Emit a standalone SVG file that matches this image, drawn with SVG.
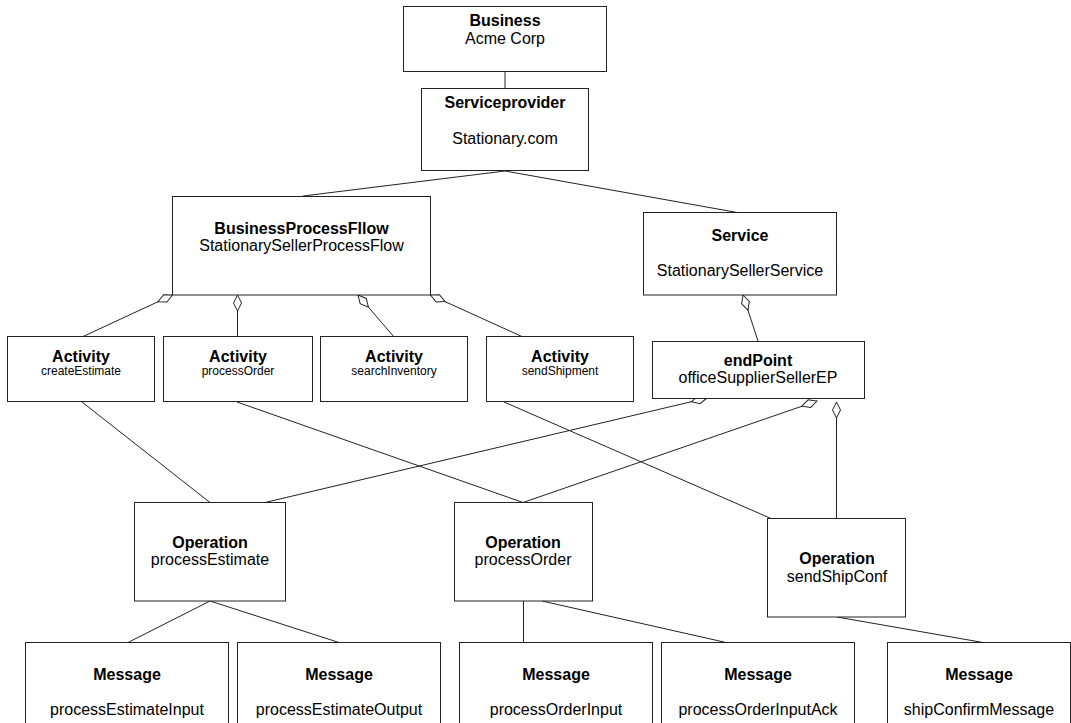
<svg xmlns="http://www.w3.org/2000/svg" width="1071" height="723" viewBox="0 0 1071 723">
<style>
.box{fill:#fff;stroke:#222;stroke-width:1}
.t{font-family:"Liberation Sans",Arial,sans-serif;font-size:16px;fill:#000;text-anchor:middle}
.b{font-weight:bold}
.s{font-size:12px}
.c line{stroke:#222;stroke-width:1}
.agg{marker-start:url(#dia)}
</style>
<defs>
<marker id="dia" markerUnits="userSpaceOnUse" orient="auto" refX="0" refY="0" markerWidth="20" markerHeight="10" overflow="visible">
<path d="M0,0 L8,-4 L16,0 L8,4 Z" fill="#fff" stroke="#222" stroke-width="1"/>
</marker>
</defs>
<rect width="1071" height="723" fill="#fff"/>
<g id="connectors" class="c">
<line x1="505" y1="72" x2="505" y2="89"/>
<line x1="505" y1="171" x2="303" y2="196"/>
<line x1="505" y1="171" x2="740" y2="213"/>
<line class="agg" x1="172.5" y1="295" x2="82" y2="337"/>
<line class="agg" x1="237.5" y1="295" x2="237.5" y2="337"/>
<line class="agg" x1="358" y1="295" x2="394" y2="337"/>
<line class="agg" x1="430.5" y1="295" x2="523" y2="337"/>
<line class="agg" x1="743" y1="295" x2="758" y2="341"/>
<line class="agg" x1="707" y1="398" x2="265" y2="502.5"/>
<line class="agg" x1="817" y1="401" x2="523" y2="502.5"/>
<line class="agg" x1="836.5" y1="402" x2="836.5" y2="518.5"/>
<line x1="82" y1="402" x2="210" y2="502.5"/>
<line x1="237" y1="402" x2="523" y2="502.5"/>
<line x1="504" y1="402" x2="771" y2="518.5"/>
<line x1="210" y1="601" x2="128" y2="642.5"/>
<line x1="210" y1="601" x2="339" y2="642.5"/>
<line x1="523.5" y1="601" x2="523.5" y2="642.5"/>
<line x1="542" y1="601" x2="726" y2="642.5"/>
<line x1="837" y1="617" x2="983" y2="642.5"/>
</g>
<g id="business"><rect class="box" x="403.5" y="6.5" width="203" height="65"/>
<text class="t b" x="505" y="26">Business</text><text class="t" x="505" y="44">Acme Corp</text></g>
<g id="serviceprovider"><rect class="box" x="421.5" y="88.5" width="167" height="82"/>
<text class="t b" x="505" y="108">Serviceprovider</text><text class="t" x="505" y="144">Stationary.com</text></g>
<g id="bpf"><rect class="box" x="172.5" y="196.5" width="258" height="98.5"/>
<text class="t b" x="301.5" y="234">BusinessProcessFllow</text><text class="t" x="301.5" y="251">StationarySellerProcessFlow</text></g>
<g id="service"><rect class="box" x="643.5" y="212.5" width="193" height="82.5"/>
<text class="t b" x="740" y="241">Service</text><text class="t" x="740" y="276">StationarySellerService</text></g>
<g id="act1"><rect class="box" x="7.5" y="336.5" width="147" height="65"/>
<text class="t b" x="81" y="362">Activity</text><text class="t s" x="81" y="375">createEstimate</text></g>
<g id="act2"><rect class="box" x="163.5" y="336.5" width="149" height="65"/>
<text class="t b" x="238" y="362">Activity</text><text class="t s" x="238" y="375">processOrder</text></g>
<g id="act3"><rect class="box" x="320.5" y="336.5" width="147" height="65"/>
<text class="t b" x="394" y="362">Activity</text><text class="t s" x="394" y="375">searchInventory</text></g>
<g id="act4"><rect class="box" x="486.5" y="336.5" width="147" height="65"/>
<text class="t b" x="560" y="362">Activity</text><text class="t s" x="560" y="375">sendShipment</text></g>
<g id="endpoint"><rect class="box" x="652.5" y="341.5" width="212" height="57"/>
<text class="t b" x="758" y="366">endPoint</text><text class="t" x="758" y="383">officeSupplierSellerEP</text></g>
<g id="op1"><rect class="box" x="134.5" y="502.5" width="151" height="98.5"/>
<text class="t b" x="210" y="548">Operation</text><text class="t" x="210" y="565">processEstimate</text></g>
<g id="op2"><rect class="box" x="454.5" y="502.5" width="138" height="98.5"/>
<text class="t b" x="523" y="548">Operation</text><text class="t" x="523" y="565">processOrder</text></g>
<g id="op3"><rect class="box" x="767.5" y="518.5" width="138" height="98.5"/>
<text class="t b" x="837" y="564">Operation</text><text class="t" x="837" y="582">sendShipConf</text></g>
<g id="msg1"><rect class="box" x="25.5" y="642.5" width="203" height="100"/>
<text class="t b" x="127" y="680">Message</text><text class="t" x="127" y="715">processEstimateInput</text></g>
<g id="msg2"><rect class="box" x="237.5" y="642.5" width="203" height="100"/>
<text class="t b" x="339" y="680">Message</text><text class="t" x="339" y="715">processEstimateOutput</text></g>
<g id="msg3"><rect class="box" x="459.5" y="642.5" width="193" height="100"/>
<text class="t b" x="556" y="680">Message</text><text class="t" x="556" y="715">processOrderInput</text></g>
<g id="msg4"><rect class="box" x="661.5" y="642.5" width="193" height="100"/>
<text class="t b" x="758" y="680">Message</text><text class="t" x="758" y="715">processOrderInputAck</text></g>
<g id="msg5"><rect class="box" x="887.5" y="642.5" width="183" height="100"/>
<text class="t b" x="979" y="680">Message</text><text class="t" x="979" y="715">shipConfirmMessage</text></g>
</svg>
